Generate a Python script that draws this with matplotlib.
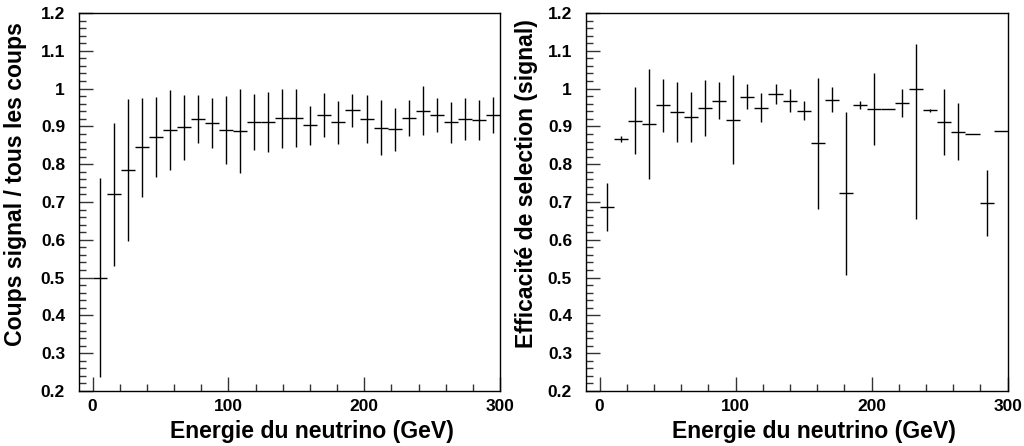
import numpy as np
import matplotlib
matplotlib.use("Agg")
import matplotlib.pyplot as plt
from matplotlib.ticker import MultipleLocator

plt.rcParams['font.family'] = ['Liberation Sans', 'DejaVu Sans']
plt.rcParams['font.weight'] = 'bold'

# ---- data ----
energy_range = (0.0, 300.0)
n_bins = 29

# Left panel: signal counts / all counts
ratio_vals = [0.500, 0.720, 0.785, 0.845, 0.872, 0.891, 0.898, 0.920, 0.908, 0.890,
              0.887, 0.911, 0.911, 0.921, 0.922, 0.903, 0.930, 0.911, 0.9425, 0.920,
              0.897, 0.892, 0.922, 0.942, 0.930, 0.911, 0.919, 0.916, 0.930]
ratio_err = [0.264, 0.188, 0.188, 0.131, 0.105, 0.106, 0.086, 0.064, 0.066, 0.090,
             0.111, 0.074, 0.079, 0.078, 0.077, 0.052, 0.0575, 0.057, 0.044, 0.064,
             0.072, 0.057, 0.048, 0.064, 0.044, 0.054, 0.056, 0.053, 0.047]

# Right panel: selection efficiency (signal)
eff_vals = [0.687, 0.866, 0.9155, 0.906, 0.956, 0.939, 0.9245, 0.949, 0.9685, 0.918,
            0.979, 0.950, 0.985, 0.9685, 0.942, 0.855, 0.971, 0.723, 0.956, 0.946,
            0.945, 0.961, 1.000, 0.943, 0.912, 0.886, 0.881, 0.6975, 0.889]
eff_err_low = [0.063, 0.008, 0.089, 0.145, 0.070, 0.079, 0.067, 0.074, 0.048, 0.117,
               0.033, 0.039, 0.026, 0.030, 0.0245, 0.174, 0.033, 0.217, 0.010, 0.096,
               0.0, 0.037, 0.346, 0.004, 0.088, 0.075, 0.0, 0.088, 0.0]
eff_err_high = [0.063, 0.008, 0.089, 0.145, 0.070, 0.079, 0.067, 0.074, 0.048, 0.117,
                0.033, 0.039, 0.026, 0.030, 0.0245, 0.173, 0.033, 0.216, 0.010, 0.096,
                0.0, 0.037, 0.118, 0.004, 0.088, 0.075, 0.0, 0.088, 0.0]

xlabel = "Energie du neutrino (GeV)"
ylabel_left = "Coups signal / tous les coups"
ylabel_right = "Efficacité de selection (signal)"

edges = np.linspace(energy_range[0], energy_range[1], n_bins + 1)
centers = 0.5 * (edges[:-1] + edges[1:])
half_w = 0.5 * np.diff(edges)

fig = plt.figure(figsize=(10.24, 4.46), dpi=100)
W, H = 1024, 446
axL = fig.add_axes([79 / W, 1 - 391 / H, 421 / W, 378 / H])
axR = fig.add_axes([586 / W, 1 - 391 / H, 421.7 / W, 378 / H])


def style(ax):
    ax.set_xlim(-10, 300)
    ax.set_ylim(0.2, 1.2)
    ax.xaxis.set_major_locator(MultipleLocator(100))
    ax.xaxis.set_minor_locator(MultipleLocator(20))
    ax.yaxis.set_major_locator(MultipleLocator(0.1))
    ax.yaxis.set_minor_locator(MultipleLocator(0.02))
    ax.tick_params(which='both', direction='in', top=False, right=False, width=1, color='#333333')
    ax.tick_params(which='major', length=10)
    ax.tick_params(which='minor', length=5)
    ax.tick_params(axis='y', which='major', pad=10, labelsize=12.5)
    ax.tick_params(axis='x', which='major', pad=6, labelsize=12.5)
    for s in ax.spines.values():
        s.set_linewidth(1.0)
    ax.yaxis.set_major_formatter(matplotlib.ticker.FuncFormatter(lambda v, p: ('%g' % round(v, 2))))
    for lab in ax.get_xticklabels() + ax.get_yticklabels():
        lab.set_fontweight('bold')


axL.errorbar(centers, ratio_vals, xerr=half_w, yerr=ratio_err, fmt='none',
             ecolor='black', elinewidth=1.0, capsize=0)
axR.errorbar(centers, eff_vals, xerr=half_w, yerr=[eff_err_low, eff_err_high], fmt='none',
             ecolor='black', elinewidth=1.0, capsize=0)

for ax in (axL, axR):
    style(ax)

axL.set_xlabel(xlabel, fontsize=16.6, fontweight='bold')
axR.set_xlabel(xlabel, fontsize=16.6, fontweight='bold')
axL.xaxis.set_label_coords(0.553, -0.076)
axR.xaxis.set_label_coords(0.541, -0.076)
axL.set_ylabel(ylabel_left, fontsize=16.6, fontweight='bold')
axR.set_ylabel(ylabel_right, fontsize=16.6, fontweight='bold')
axL.yaxis.set_label_coords(-0.124, 0.548)
axR.yaxis.set_label_coords(-0.113, 0.548)

fig.savefig("out.png", dpi=100)
